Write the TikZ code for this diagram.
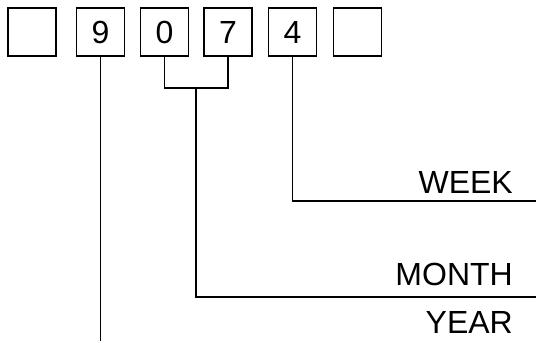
\documentclass[tikz,border=0pt]{standalone}
\usepackage{fontspec}
\setmainfont{Liberation Sans}
\begin{document}
\begin{tikzpicture}[x=1pt,y=-1pt,
  digitbox/.style={draw,line width=1.4pt,minimum width=48pt,minimum height=48pt,inner sep=0pt,font=\fontsize{32}{32}\selectfont},
  conn/.style={line width=1.4pt},
  lbl/.style={anchor=base east,inner sep=0pt,font=\fontsize{32}{32}\selectfont}]
\useasboundingbox (0,0) rectangle (536,343);
\node[digitbox] (b1) at (32,32) {};
\node[digitbox] (b2) at (100.5,32) {9};
\node[digitbox] (b3) at (164.5,32) {0};
\node[digitbox] (b4) at (228,32) {7};
\node[digitbox] (b5) at (292.5,32) {4};
\node[digitbox] (b6) at (357.5,32) {};
\coordinate (yend) at (b2.south |- 0,341);
\coordinate (bl) at (b3.south |- 0,88);
\coordinate (br) at (b4.south |- 0,88);
\coordinate (bm) at (196,88);
\coordinate (mcorner) at (196,297);
\coordinate (mend) at (536,297);
\coordinate (wcorner) at (b5.south |- 0,201);
\coordinate (wend) at (536,201);
\draw[conn] (b2.south) -- (yend);
\draw[conn] (b3.south) -- (bl) -- (br) -- (b4.south);
\draw[conn] (bm) -- (mcorner) -- (mend);
\draw[conn] (b5.south) -- (wcorner) -- (wend);
\node[lbl] (week) at (513,193) {WEEK};
\node[lbl] (month) at (513,285) {MONTH};
\node[lbl] (year) at (513,333) {YEAR};
\end{tikzpicture}
\end{document}
